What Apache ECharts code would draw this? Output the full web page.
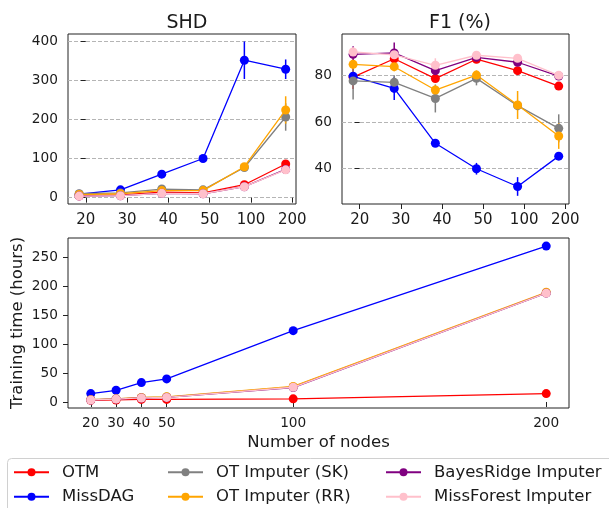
<!DOCTYPE html>
<html>
<head>
<meta charset="utf-8">
<script src="https://cdn.jsdelivr.net/npm/echarts@6/dist/echarts.min.js"></script>
<style>
html,body{margin:0;padding:0;background:#fff;}
#chart{width:609px;height:508px;}
</style>
</head>
<body>
<div id="chart"></div>
<script>
// ---- data ----
const categories = ['20', '30', '40', '50', '100', '200'];
const nodes = [20, 30, 40, 50, 100, 200];
const seriesNames = ['OTM', 'MissDAG', 'OT Imputer (SK)', 'OT Imputer (RR)', 'BayesRidge Imputer', 'MissForest Imputer'];
const colors = ['#ff0000', '#0000ff', '#808080', '#ffa500', '#800080', '#ffc0cb'];

// SHD
const shdOTM = [5, 7, 14, 12, 33, 86];
const shdMissDAG = [9, 20, 60, 100, 351, 328];
const shdSK = [10, 12, 22, 20, 77, 206];
const shdRR = [8, 10, 18, 18, 79, 224];
const shdBR = [4, 5, 11, 10, 28, 72];
const shdMF = [4, 5, 11, 10, 28, 71];
const shdErrOTM = [1, 1, 2, 2, 5, 8];
const shdErrMissDAG = [2, 4, 5, 5, 48, 25];
const shdErrSK = [2, 2, 4, 3, 6, 35];
const shdErrRR = [1, 2, 3, 3, 6, 35];
const shdErrBR = [1, 1, 2, 2, 4, 5];
const shdErrMF = [1, 1, 2, 2, 4, 5];

// F1 (%)
const f1OTM = [79.2, 87.1, 78.6, 86.9, 82.0, 75.4];
const f1MissDAG = [79.6, 74.4, 50.9, 40.0, 32.4, 45.4];
const f1SK = [77.6, 77.0, 70.1, 78.7, 67.0, 57.3];
const f1RR = [84.7, 83.7, 73.7, 80.1, 67.3, 54.0];
const f1BR = [89.0, 89.6, 82.0, 87.7, 85.6, 79.7];
const f1MF = [90.0, 88.8, 84.3, 88.6, 87.3, 80.0];
const f1ErrOTM = [5, 1.5, 1.5, 1, 1.5, 1];
const f1ErrMissDAG = [1.5, 5, 1, 2.5, 4, 1];
const f1ErrSK = [8, 3, 6, 3, 2, 6];
const f1ErrRR = [2, 2, 2, 2, 6, 5.5];
const f1ErrBR = [3.5, 4.5, 1.5, 1, 1.5, 1];
const f1ErrMF = [2, 2, 3, 1, 1, 1];

// Training time (hours)
const timeOTM = [3, 3.5, 4.5, 4.5, 5.5, 14.5];
const timeMissDAG = [14.6, 20.3, 33.6, 40, 123.5, 270];
const timeSK = [4, 5.5, 7.5, 8.5, 26, 189];
const timeRR = [4, 5.5, 8, 9, 27, 190];
const timeBR = [3.5, 5, 7, 8, 25, 188.5];
const timeMF = [3.5, 5, 7, 8, 25.5, 188.5];

const shdTicks = [0, 100, 200, 300, 400];
const f1Ticks = [40, 60, 80];
const timeTicks = [0, 50, 100, 150, 200, 250];

// ---- build ----
const shdAll = [shdOTM, shdMissDAG, shdSK, shdRR, shdBR, shdMF];
const shdErrAll = [shdErrOTM, shdErrMissDAG, shdErrSK, shdErrRR, shdErrBR, shdErrMF];
const f1All = [f1OTM, f1MissDAG, f1SK, f1RR, f1BR, f1MF];
const f1ErrAll = [f1ErrOTM, f1ErrMissDAG, f1ErrSK, f1ErrRR, f1ErrBR, f1ErrMF];
const timeAll = [timeOTM, timeMissDAG, timeSK, timeRR, timeBR, timeMF];

const FONT = 'DejaVu Sans';
const TXT = '#1a1a1a';
const dodge = -0.16;
const catIdx = categories.map((c, i) => i);

function errSeries(vals, errs, color, xi, z) {
  return {
    type: 'custom', xAxisIndex: xi, yAxisIndex: xi, silent: true, z: z,
    encode: {x: 0, y: [1, 2]},
    data: vals.map((v, i) => [i + dodge, v - errs[i], v + errs[i]]),
    renderItem: function (params, api) {
      const p1 = api.coord([api.value(0), api.value(1)]);
      const p2 = api.coord([api.value(0), api.value(2)]);
      return {type: 'line', shape: {x1: p1[0], y1: p1[1], x2: p2[0], y2: p2[1]},
        style: {stroke: color, lineWidth: 1.5}};
    }
  };
}

const series = [];
seriesNames.forEach((name, k) => {
  const common = {
    type: 'line', name: name, symbol: 'circle', symbolSize: 9, color: colors[k],
    lineStyle: {width: 1.3, color: colors[k]}, itemStyle: {color: colors[k]},
    animation: false, z: 10 + k
  };
  series.push(errSeries(shdAll[k], shdErrAll[k], colors[k], 0, 3 + k));
  series.push(Object.assign({}, common, {xAxisIndex: 0, yAxisIndex: 0,
    data: shdAll[k].map((v, i) => [i + dodge, v])}));
  series.push(errSeries(f1All[k], f1ErrAll[k], colors[k], 1, 3 + k));
  series.push(Object.assign({}, common, {xAxisIndex: 1, yAxisIndex: 1,
    data: f1All[k].map((v, i) => [i + dodge, v])}));
  series.push(Object.assign({}, common, {xAxisIndex: 2, yAxisIndex: 2,
    data: timeAll[k].map((v, i) => [nodes[i], v])}));
});

const tickStyle = {show: true, inside: false, length: 5, lineStyle: {color: '#222', width: 1}};
const yLabelStyle = {color: TXT, fontSize: 13.7, fontFamily: FONT, margin: 10};
const dashed = {show: true, lineStyle: {color: '#b5b5b5', type: [4, 2], width: 1}};

function catXAxis(gi) {
  return {
    type: 'value', gridIndex: gi, min: -0.43, max: 5.09,
    axisLine: {show: false},
    axisTick: Object.assign({}, tickStyle, {customValues: catIdx}),
    axisLabel: {color: TXT, fontSize: 15, fontFamily: FONT, margin: 9, customValues: catIdx,
      formatter: v => categories[Math.round(v)]},
    splitLine: {show: false}
  };
}
function yAxis(gi, min, max, ticks, grid) {
  return {
    type: 'value', gridIndex: gi, min: min, max: max,
    axisLine: {show: false},
    axisTick: Object.assign({}, tickStyle, {customValues: ticks}),
    axisLabel: Object.assign({}, yLabelStyle, {customValues: ticks}),
    splitLine: grid ? Object.assign({}, dashed, {customValues: ticks}) : {show: false}
  };
}

const legendText = {fontSize: 16.5, fontFamily: FONT, color: TXT, lineHeight: 18, padding: [0, 0, 0, 8]};
function legendCol(left, names) {
  return {
    left: left, top: 463.3, height: 60, padding: 0, orient: 'vertical',
    itemWidth: 35, itemHeight: 10, itemGap: 6.4,
    data: names, textStyle: legendText, selectedMode: false
  };
}

const titleStyle = {fontSize: 19, fontWeight: 'normal', fontFamily: FONT, color: TXT};
const gridBase = {show: true, borderColor: '#222', borderWidth: 1, containLabel: false, outerBoundsMode: 'none'};
const option = {
  animation: false,
  backgroundColor: '#fff',
  title: [
    {text: 'SHD', left: 182, top: 9, textAlign: 'center', textStyle: titleStyle},
    {text: 'F1 (%)', left: 455, top: 9, textAlign: 'center', textStyle: titleStyle}
  ],
  grid: [
    Object.assign({left: 68, top: 34, width: 228, height: 170}, gridBase),
    Object.assign({left: 342, top: 34, width: 227, height: 170}, gridBase),
    Object.assign({left: 68, top: 238, width: 501, height: 170}, gridBase)
  ],
  xAxis: [
    catXAxis(0),
    catXAxis(1),
    {
      type: 'value', gridIndex: 2, min: 11, max: 209,
      name: 'Number of nodes', nameLocation: 'middle', nameGap: 26, nameMoveOverlap: false,
      nameTextStyle: {fontSize: 16.5, fontFamily: FONT, color: TXT},
      axisLine: {show: false},
      axisTick: Object.assign({}, tickStyle, {customValues: nodes}),
      axisLabel: {color: TXT, fontSize: 13.7, fontFamily: FONT, margin: 8, customValues: nodes},
      splitLine: {show: false}
    }
  ],
  yAxis: [
    yAxis(0, -16.2, 418, shdTicks, true),
    yAxis(1, 24.9, 97.7, f1Ticks, true),
    Object.assign(yAxis(2, -10.4, 284, timeTicks, false), {
      name: 'Training time (hours)', nameLocation: 'middle', nameGap: 42, nameMoveOverlap: false,
      nameTextStyle: {fontSize: 16.5, fontFamily: FONT, color: TXT}
    })
  ],
  legend: [
    legendCol(13, ['OTM', 'MissDAG']),
    legendCol(167, ['OT Imputer (SK)', 'OT Imputer (RR)']),
    legendCol(385, ['BayesRidge Imputer', 'MissForest Imputer'])
  ],
  graphic: [
    {type: 'rect', left: 7, top: 458, z: -1,
      shape: {width: 620, height: 70, r: 4},
      style: {fill: '#fff', stroke: '#d0d0d0', lineWidth: 1}}
  ],
  series: series
};

const chart = echarts.init(document.getElementById('chart'), null, {renderer: 'canvas'});
chart.setOption(option);
</script>
</body>
</html>
